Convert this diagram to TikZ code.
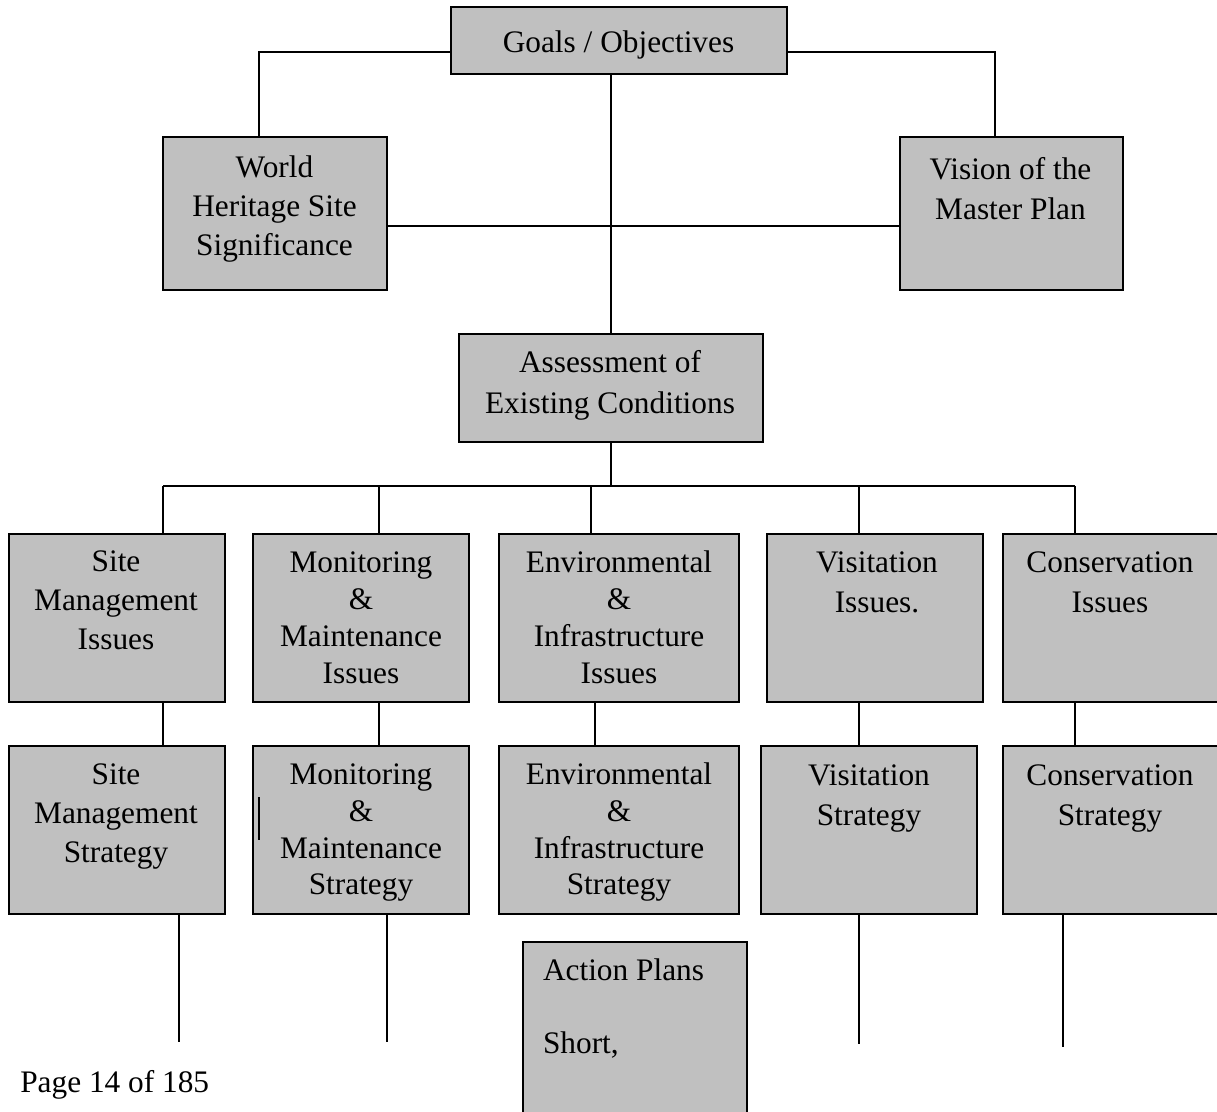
\documentclass[tikz,border=0pt]{standalone}
\usepackage{fontspec}
\setmainfont{Liberation Serif}
\usetikzlibrary{calc}
\definecolor{boxgray}{RGB}{192,192,192}

% grey box given by its top-left and bottom-right corners (in px units)
\newcommand\diabox[5]{%
  \node[box, minimum width={(#4-#2)*0.75pt}, minimum height={(#5-#3)*0.75pt}] (#1) at (#2,#3) {};}

\begin{document}
\begin{tikzpicture}[x=0.75pt,y=-0.75pt,
  box/.style={draw=black, fill=boxgray, line width=1.6pt, rectangle,
    inner sep=0pt, outer sep=0pt, anchor=north west},
  wire/.style={draw=black, line width=1.2pt},
  thinwire/.style={draw=black, line width=1pt},
  lbl/.style={inner sep=0pt, outer sep=0pt, align=center, anchor=north},
  fsz/.style={font=\fontsize{23.5pt}{#1}\selectfont}]

\fill[white] (0,0) rectangle (1217,1112);
\useasboundingbox (0,0) rectangle (1217,1112);

% ---- boxes ----
\diabox{goals}{451}{7}{787}{74}
\diabox{whs}{163}{137}{387}{290}
\diabox{vis}{900}{137}{1123}{290}
\diabox{asm}{459}{334}{763}{442}

\diabox{i1}{9}{534}{225}{702}
\diabox{i2}{253}{534}{469}{702}
\diabox{i3}{499}{534}{739}{702}
\diabox{i4}{767}{534}{983}{702}
\diabox{i5}{1003}{534}{1226}{702}

\diabox{s1}{9}{746}{225}{914}
\diabox{s2}{253}{746}{469}{914}
\diabox{s3}{499}{746}{739}{914}
\diabox{s4}{761}{746}{977}{914}
\diabox{s5}{1003}{746}{1226}{914}

\diabox{act}{523}{942}{747}{1125}

% ---- connectors ----
\draw[wire] (goals.west |- 0,52) -| (259,0 |- whs.north);
\draw[wire] (goals.east |- 0,52) -| (995,0 |- vis.north);
\draw[wire] (asm.north) -- (asm.north |- goals.south);
\draw[wire] (whs.east |- 0,226) -- (vis.west |- 0,226);

\coordinate (bus) at (asm.south |- 0,486);
\draw[wire] (asm.south) -- (bus);
\draw[wire] (163,0 |- bus) -- (1075,0 |- bus);
\draw[wire] (163,0 |- bus) -- (163,0 |- i1.north);
\draw[wire] (379,0 |- bus) -- (379,0 |- i2.north);
\draw[wire] (591,0 |- bus) -- (591,0 |- i3.north);
\draw[wire] (859,0 |- bus) -- (859,0 |- i4.north);
\draw[wire] (1075,0 |- bus) -- (1075,0 |- i5.north);

\draw[wire] (163,0 |- i1.south) -- (163,0 |- s1.north);
\draw[wire] (379,0 |- i2.south) -- (379,0 |- s2.north);
\draw[wire] (595,0 |- i3.south) -- (595,0 |- s3.north);
\draw[wire] (859,0 |- i4.south) -- (859,0 |- s4.north);
\draw[wire] (1075,0 |- i5.south) -- (1075,0 |- s5.north);

\coordinate (e1) at (179,1042);
\coordinate (e2) at (387,1042);
\coordinate (e4) at (859,1044);
\coordinate (e5) at (1063,1047);
\draw[thinwire] (s1.south -| e1) -- (e1);
\draw[thinwire] (s2.south -| e2) -- (e2);
\draw[thinwire] (s4.south -| e4) -- (e4);
\draw[thinwire] (s5.south -| e5) -- (e5);

% short stray bar inside the monitoring strategy box
\draw[line width=0.9pt] ($(s2.north west)+(6,51)$) -- ($(s2.north west)+(6,94)$);

% ---- labels ----
\node[inner sep=0pt, anchor=base, fsz=28.5pt] (tgoals) at (618.5,53) {Goals / Objectives};
\node[lbl, fsz=29.25pt] (twhs) at (274.5,156) {World\\Heritage Site\\Significance};
\node[lbl, fsz=30pt] (tvis) at (1010.5,157) {Vision of the\\Master Plan};
\node[lbl, fsz=30.75pt] (tasm) at (610,350.5) {Assessment of\\Existing Conditions};

\node[lbl, fsz=29.25pt] (ti1) at (116,551) {Site\\Management\\Issues};
\node[lbl, fsz=27.75pt] (ti2) at (361,552) {Monitoring\\\&\\Maintenance\\Issues};
\node[lbl, fsz=27.75pt] (ti3) at (619,551) {Environmental\\\&\\Infrastructure\\Issues};
\node[lbl, fsz=30pt] (ti4) at (877,552) {Visitation\\Issues.};
\node[lbl, fsz=30pt] (ti5) at (1110,552) {Conservation\\Issues};

\node[lbl, fsz=29.25pt] (ts1) at (116,764) {Site\\Management\\Strategy};
\node[lbl, fsz=27.5pt] (ts2) at (361,764) {Monitoring\\\&\\Maintenance\\Strategy};
\node[lbl, fsz=27.5pt] (ts3) at (619,763) {Environmental\\\&\\Infrastructure\\Strategy};
\node[lbl, fsz=30pt] (ts4) at (869,765) {Visitation\\Strategy};
\node[lbl, fsz=30pt] (ts5) at (1110,765) {Conservation\\Strategy};

\node[lbl, fsz=27.4pt, align=left, anchor=north west] (tact) at (543,959) {Action Plans\\[27.4pt]Short,};

\node[inner sep=0pt, anchor=base west, fsz=28.5pt] (tpage) at (20,1092) {Page 14 of 185};
\end{tikzpicture}
\end{document}
